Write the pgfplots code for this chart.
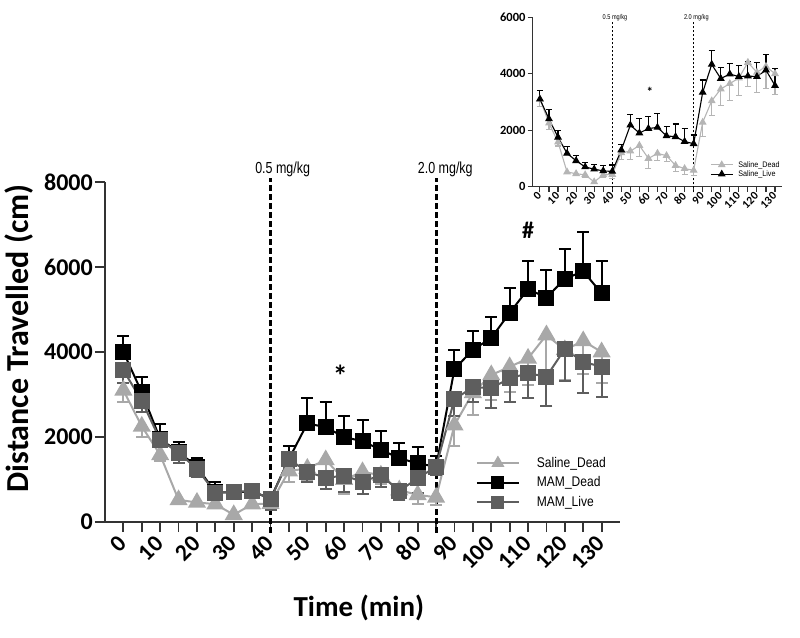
\documentclass[border=0pt]{standalone}
\usepackage{fontspec}
\setmainfont{Carlito}
\newfontfamily\lib{Liberation Sans}
\usepackage{graphicx}
\usepackage{pgfplots}
\usepackage{pgfplotstable}
\pgfplotsset{compat=1.18}
\definecolor{sdgray}{HTML}{A8A8A8}
\definecolor{mlgray}{HTML}{5E5E5E}
\definecolor{axgray}{HTML}{333333}

\pgfplotstableread{
t sd sde md mde ml mle
0 3100 270 4000 380 3570 300
5 2250 240 3050 370 2850 250
10 1580 140 1950 350 1930 150
15 520 60 1650 230 1630 230
20 460 60 1300 200 1250 180
25 420 80 700 250 690 150
30 170 60 700 120 700 100
35 420 100 720 170 740 130
40 430 150 550 120 530 250
45 1200 250 1480 300 1480 200
50 1260 300 2320 590 1180 240
55 1460 400 2230 590 1040 270
60 1000 350 2000 500 1090 380
65 1180 250 1900 500 950 280
70 1100 200 1700 430 1100 280
75 750 200 1500 350 730 210
80 640 220 1380 390 1030 350
85 580 180 1300 250 1300 200
90 2280 500 3600 450 2890 400
95 3040 520 4050 450 3170 350
100 3460 590 4330 500 3150 470
105 3650 590 4920 580 3380 550
110 3850 620 5480 650 3500 590
115 4400 850 5280 640 3420 690
120 4050 700 5720 710 4070 750
125 4260 770 5900 930 3770 740
130 4000 740 5380 770 3650 720
}\maindata

\pgfplotstableread{
t sl sle
0 3100 320
5 2400 320
10 1750 250
15 1180 230
20 920 200
25 700 160
30 620 170
35 560 180
40 540 230
45 1300 210
50 2180 380
55 1900 520
60 2060 440
65 2100 500
70 1800 330
75 1770 450
80 1600 470
85 1520 310
90 3340 440
95 4330 490
100 3830 390
105 3990 380
110 3900 390
115 3920 500
120 3900 510
125 4130 560
130 3580 610
}\insetdata

\begin{document}
\begin{tikzpicture}
\useasboundingbox (-105pt,-115pt) rectangle (695pt,522pt);
% ---------------- main axis ----------------
\begin{axis}[
  at={(0pt,0pt)}, anchor=south west,
  scale only axis, width=515pt, height=340pt,
  xmin=-5, xmax=135, ymin=0, ymax=8000,
  axis x line=bottom, axis y line=left,
  axis line style={-, line width=1.8pt, axgray},
  tick align=outside,
  major tick length=10pt, minor tick length=10pt,
  tick style={line width=1.8pt, axgray},
  xtick={0,10,...,130}, minor xtick={5,15,...,125},
  ytick={0,2000,4000,6000,8000},
  scaled ticks=false,
  /pgf/number format/.cd, 1000 sep={}, assume math mode=true,
  /pgfplots/.cd,
  xticklabel shift=7pt,
  xticklabel style={font=\fontsize{23.5}{23.5}\selectfont\bfseries, rotate=45, anchor=east, inner sep=1pt},
  yticklabel style={font=\fontsize{24}{24}\selectfont\bfseries, inner sep=2pt},
  xlabel={Time (min)},
  ylabel={Distance Travelled (cm)},
  xlabel style={font=\fontsize{29}{29}\selectfont\bfseries, at={(axis description cs:0.493,-0.253)}, anchor=center},
  ylabel style={font=\fontsize{32}{32}\selectfont\bfseries, at={(axis description cs:-0.167,0.54)}, anchor=center},
  clip=false,
  legend style={at={(0.714,0.203)}, anchor=north west, draw=none, fill=none,
    font=\lib\fontsize{14}{14}\selectfont, row sep=4pt,
    /tikz/every odd column/.append style={column sep=15pt}},
  legend cell align=left,
  legend image code/.code={\draw[mark repeat=2,mark phase=2,mark size=5.5pt] plot coordinates {(0pt,0pt)(21pt,0pt)(42pt,0pt)};},
]
\draw[line width=3pt, dash pattern=on 6pt off 3pt] (axis cs:40,-250) -- (axis cs:40,8100);
\draw[line width=3pt, dash pattern=on 6pt off 3pt] (axis cs:85,-250) -- (axis cs:85,8100);
\node[anchor=south, inner sep=1pt, font=\lib\fontsize{16}{16}\selectfont] at (axis cs:43.3,8100) {\scalebox{0.78}[1]{0.5 mg/kg}};
\node[anchor=south, inner sep=1pt, font=\lib\fontsize{16}{16}\selectfont] at (axis cs:87.5,8100) {\scalebox{0.78}[1]{2.0 mg/kg}};

\addplot[sdgray, line width=2pt, mark=triangle*, mark size=8.5pt,
  error bars/.cd, y dir=minus, y explicit,
  error bar style={line width=2pt}, error mark options={rotate=90, mark size=6pt, line width=2pt}]
  table[x=t, y=sd, y error=sde] {\maindata};
\addlegendentry{\scalebox{0.86}[1]{Saline\_Dead}}
\addplot[black, line width=2pt, mark=square*, mark size=7pt,
  error bars/.cd, y dir=plus, y explicit,
  error bar style={line width=2pt}, error mark options={rotate=90, mark size=6pt, line width=2pt}]
  table[x=t, y=md, y error=mde] {\maindata};
\addlegendentry{\scalebox{0.86}[1]{MAM\_Dead}}
\addplot[mlgray, line width=2pt, mark=square*, mark size=7pt,
  error bars/.cd, y dir=minus, y explicit,
  error bar style={line width=2pt}, error mark options={rotate=90, mark size=6pt, line width=2pt}]
  table[x=t, y=ml, y error=mle] {\maindata};
\addlegendentry{\scalebox{0.86}[1]{MAM\_Live}}

\node[font=\fontsize{30}{30}\selectfont\bfseries] at (axis cs:59,3450) {*};
\node[font=\fontsize{24}{24}\selectfont\bfseries] at (axis cs:110,6870) {\#};
\end{axis}

% ---------------- inset axis ----------------
\begin{axis}[
  at={(427.7pt,335.3pt)}, anchor=south west,
  scale only axis, width=249pt, height=169.4pt,
  xmin=-4, xmax=133.7, ymin=0, ymax=6000,
  axis x line=bottom, axis y line=left,
  axis line style={-, line width=1.1pt, axgray},
  tick align=outside,
  major tick length=5pt, minor tick length=5pt,
  tick style={line width=1.1pt, axgray},
  xtick={0,10,...,130}, minor xtick={5,15,...,125},
  ytick={0,2000,4000,6000},
  scaled ticks=false,
  /pgf/number format/.cd, 1000 sep={}, assume math mode=true,
  /pgfplots/.cd,
  xticklabel shift=2pt,
  xticklabel style={font=\fontsize{11.5}{11.5}\selectfont\bfseries, rotate=45, anchor=east, inner sep=0.5pt},
  yticklabel style={font=\fontsize{12.5}{12.5}\selectfont\bfseries, inner sep=2pt},
  clip=false,
  legend style={at={(0.70,0.175)}, anchor=north west, draw=none, fill=none,
    font=\lib\fontsize{8}{8}\selectfont, row sep=-2pt,
    /tikz/every odd column/.append style={column sep=3pt}},
  legend cell align=left,
  legend image code/.code={\draw[mark repeat=2,mark phase=2] plot coordinates {(0pt,0pt)(11pt,0pt)(22pt,0pt)};},
]
\draw[line width=1.4pt, dash pattern=on 2.5pt off 1.5pt] (axis cs:40,-200) -- (axis cs:40,5830);
\draw[line width=1.4pt, dash pattern=on 2.5pt off 1.5pt] (axis cs:85,-200) -- (axis cs:85,5830);
\node[anchor=south, inner sep=1pt, font=\lib\fontsize{7}{7}\selectfont] at (axis cs:41.5,5830) {\scalebox{0.8}[1]{0.5 mg/kg}};
\node[anchor=south, inner sep=1pt, font=\lib\fontsize{7}{7}\selectfont] at (axis cs:86.5,5830) {\scalebox{0.8}[1]{2.0 mg/kg}};

\addplot[sdgray!85, line width=1.1pt, mark=triangle*, mark size=3.5pt,
  error bars/.cd, y dir=minus, y explicit,
  error bar style={line width=1.1pt}, error mark options={rotate=90, mark size=3pt, line width=1.1pt}]
  table[x=t, y=sd, y error=sde] {\maindata};
\addlegendentry{\scalebox{0.9}[1]{Saline\_Dead}}
\addplot[black, line width=1.1pt, mark=triangle*, mark size=3.5pt,
  error bars/.cd, y dir=plus, y explicit,
  error bar style={line width=1.1pt}, error mark options={rotate=90, mark size=3pt, line width=1.1pt}]
  table[x=t, y=sl, y error=sle] {\insetdata};
\addlegendentry{\scalebox{0.9}[1]{Saline\_Live}}
\node[font=\fontsize{13}{13}\selectfont\bfseries] at (axis cs:60.8,3350) {*};
\end{axis}
\end{tikzpicture}
\end{document}
